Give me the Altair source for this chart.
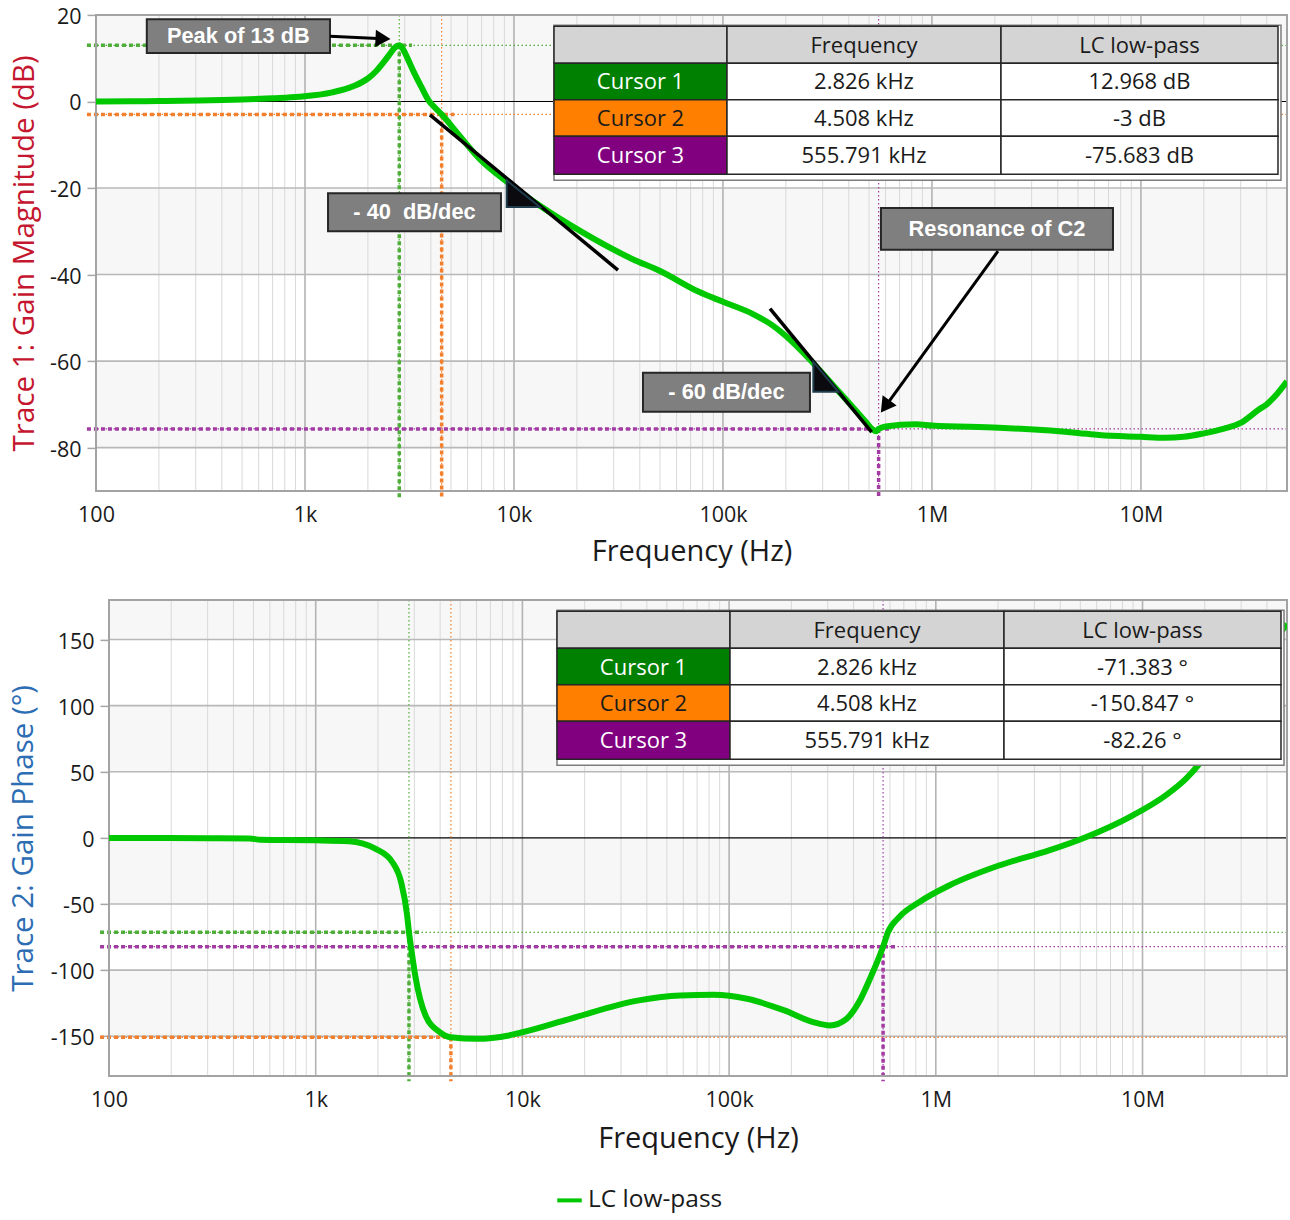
import math

import altair as alt
import pandas as pd

FONT = "Open Sans"
BOLD_FONT = "Liberation Sans"

# ---------------------------------------------------------------- data
SERIES_NAME = "LC low-pass"

# Trace 1: gain magnitude of the LC low-pass
MAG_FREQ_HZ = [100, 150, 200, 311, 500, 700, 940, 1350, 1700, 2000, 2200, 2400,
               2550, 2700, 2826, 2950, 3100, 3300, 3600, 3920, 4200, 4508, 5460,
               6920, 9100, 10000, 13200, 21200, 36800, 50000, 76700, 100000,
               140000, 172000, 200000, 267000, 359000, 482000, 520000, 540000,
               555791, 600000, 835000, 1000000, 2090000, 5000000, 6300000,
               10000000, 13000000, 16000000, 20000000, 25000000, 30000000,
               36700000, 40000000, 45000000, 50000000]
MAG_DB = [0.0, 0.05, 0.1, 0.2, 0.45, 0.75, 1.1, 2.1, 3.5, 5.3, 7.1, 9.3,
          11.0, 12.5, 12.968, 12.0, 9.9, 7.0, 3.4, 0.1, -1.5, -3.0, -7.8,
          -13.5, -18.3, -19.8, -24.0, -30.2, -36.4, -39.2, -44.0, -46.3,
          -49.2, -51.7, -54.2, -60.2, -67.1, -74.0, -75.8, -76.2,
          -75.683, -75.1, -74.6, -74.9, -75.4, -76.6, -77.1,
          -77.5, -77.7, -77.5, -76.7, -75.6, -74.3,
          -71.2, -70.0, -67.5, -64.7]

# Trace 2: gain phase of the LC low-pass
PHASE_FREQ_HZ = [100, 300, 480, 540, 1000, 1450, 1950, 2350, 2590, 2770, 2826,
                 2900, 3030, 3400, 3980, 4508, 6000, 8600, 10000, 17000, 36600,
                 58000, 84000, 122000, 185000, 255000, 307000, 370000, 425000,
                 488000, 555791, 587000, 664000, 830000, 1160000, 2020000,
                 3530000, 5310000, 8930000, 12900000, 16200000, 19100000,
                 22000000, 26000000, 30000000, 35000000, 40000000, 45000000,
                 50000000]
PHASE_DEG = [0.0, -0.2, -0.4, -1.4, -1.8, -2.5, -8.3, -18.4, -33.5, -58.7,
             -71.383, -84.0, -104.0, -134.3, -146.9, -150.847, -152.0, -149.4,
             -147.0, -136.8, -122.9, -119.2, -118.7, -121.7, -130.5, -139.3,
             -141.8, -136.8, -124.2, -104.0, -82.26, -71.3, -60.0, -48.6, -36.0,
             -20.9, -9.5, 0.5, 16.9, 32.0, 44.6, 57.2, 70.0, 88.0, 105.0, 125.0,
             140.0, 152.0, 162.0]

# cursor read-outs
CURSOR_LABELS = ["Cursor 1", "Cursor 2", "Cursor 3"]
CURSOR_FREQ_HZ = [2826, 4508, 555791]
CURSOR_FREQ_TEXT = ["2.826 kHz", "4.508 kHz", "555.791 kHz"]
CURSOR_MAG_DB = [12.968, -3.0, -75.683]
CURSOR_MAG_TEXT = ["12.968 dB", "-3 dB", "-75.683 dB"]
CURSOR_PHASE_DEG = [-71.383, -150.847, -82.26]
CURSOR_PHASE_TEXT = ["-71.383 °", "-150.847 °", "-82.26 °"]
TABLE_HEADER = ["", "Frequency", "LC low-pass"]

# axes
F_MIN, F_MAX = 100, 5e7
X_TICKS = [100, 1e3, 1e4, 1e5, 1e6, 1e7]
MAG_DOMAIN = [-90, 20]
MAG_TICKS = [-80, -60, -40, -20, 0, 20]
PHASE_DOMAIN = [-180, 180]
PHASE_TICKS = [-150, -100, -50, 0, 50, 100, 150]

# magnitude annotations (frequency in Hz, level in dB)
NOTE_BOXES = [
    {"text": "Peak of 13 dB", "f1": 175, "f2": 1317, "d1": 19.0, "d2": 11.2},
    {"text": "- 40\u00a0 dB/dec", "f1": 1289, "f2": 8665, "d1": -21.2, "d2": -30.0},
    {"text": "- 60 dB/dec", "f1": 41420, "f2": 260800, "d1": -62.7, "d2": -71.7},
    {"text": "Resonance of C2", "f1": 570200, "f2": 7350000, "d1": -24.6, "d2": -34.3},
]
SLOPE_LINES = [
    {"f1": 3963, "f2": 31450, "d1": -3.09, "d2": -38.96},
    {"f1": 167900, "f2": 514600, "d1": -47.9, "d2": -76.4},
]
SLOPE_WEDGES = [
    {"id": "w40", "f": [9229, 13317], "top": [-18.24, -24.41], "base": -24.41},
    {"id": "w60", "f": [270700, 356600], "top": [-60.2, -67.1], "base": -67.1},
]
ARROWS = [
    {"f1": 1317, "d1": 15.08, "f2": 2362, "d2": 14.5, "angle": 2.7},
    {"f1": 2070000, "d1": -34.6, "f2": 597800, "d2": -70.5, "angle": 125.8},
]

# ---------------------------------------------------------------- style
CURVE_GREEN = "#00c800"
CURSOR_LINE_COLORS = ["#4fae3a", "#f2802e", "#a23ca2"]
CURSOR_CELL_FILL = ["#008000", "#ff8000", "#800080"]
CURSOR_CELL_TEXT = ["#ffffff", "#1a1a1a", "#ffffff"]
HEADER_FILL = "#d4d4d4"
BAND_FILL = "#f7f7f7"
TEXT_COLOR = "#1a1a1a"

TOP_W, TOP_H = 1191, 476
BOT_W, BOT_H = 1178, 476
TABLE_COL_W = [173, 274, 277]
TABLE_ROW_H = [37, 36.5, 36.5, 38]

X_SCALE = alt.Scale(type="log", domain=[F_MIN, F_MAX], nice=False)
X_LABELS = ("datum.value >= 1e6 ? format(datum.value / 1e6, 'd') + 'M' : "
            "datum.value >= 1e3 ? format(datum.value / 1e3, 'd') + 'k' : "
            "format(datum.value, 'd')")


def x_axis(title_y):
    return alt.Axis(values=X_TICKS, labelExpr=X_LABELS, title="Frequency (Hz)",
                    grid=False, ticks=False, domain=False, labelFlush=False,
                    labelOverlap=False, labelFontSize=21.5, labelPadding=14,
                    labelColor=TEXT_COLOR, titleFontSize=29, titleColor=TEXT_COLOR,
                    titleFontWeight="normal", titleY=title_y, titleBaseline="middle")


def y_axis(values, title, color, title_x):
    return alt.Axis(values=values, labelExpr="datum.value + ''", title=title,
                    grid=False, domain=False,
                    ticks=True, tickSize=9, tickColor="#a6a6a6", tickWidth=1.5,
                    labelFontSize=21.5, labelPadding=6, labelColor=TEXT_COLOR,
                    labelOffset=2.5, labelFlush=False, labelOverlap=False,
                    titleFontSize=29.5, titleColor=color, titleFontWeight="normal",
                    titleX=title_x, titleBaseline="bottom")


def background_layers(y_scale, ticks, domain, width):
    """Alternating bands, grid lines, zero line."""
    edges = sorted(set([domain[0], domain[1]] + ticks), reverse=True)
    bands = [{"hi": edges[i], "lo": edges[i + 1]} for i in range(0, len(edges) - 1, 2)]
    band = alt.Chart(pd.DataFrame(bands)).mark_rect(fill=BAND_FILL).encode(
        x=alt.value(0), x2=alt.value(width),
        y=alt.Y("hi:Q", scale=y_scale), y2="lo:Q")

    minor = [m * 10 ** e for e in range(2, 8) for m in range(2, 10) if m * 10 ** e < F_MAX]
    major = [10 ** e for e in range(3, 8)]
    minor_grid = alt.Chart(pd.DataFrame({"f": minor})).mark_rule(
        color="#d9d9d9", strokeWidth=1).encode(x=alt.X("f:Q", scale=X_SCALE))
    major_grid = alt.Chart(pd.DataFrame({"f": major})).mark_rule(
        color="#b3b3b3", strokeWidth=1.6).encode(x=alt.X("f:Q", scale=X_SCALE))
    inner = [t for t in ticks if t != 0 and domain[0] < t < domain[1]]
    y_grid = alt.Chart(pd.DataFrame({"v": inner})).mark_rule(
        color="#b8b8b8", strokeWidth=1.6).encode(y=alt.Y("v:Q", scale=y_scale))
    zero = alt.Chart(pd.DataFrame({"v": [0]})).mark_rule(
        color="#000000", strokeWidth=1.1).encode(y=alt.Y("v:Q", scale=y_scale))
    return [band, minor_grid, major_grid, y_grid, zero]


def frame_layer(width, height):
    return alt.Chart(pd.DataFrame({"k": [0]})).mark_rect(
        fill=None, stroke="#a3a3a3", strokeWidth=2).encode(
        x=alt.value(0), x2=alt.value(width), y=alt.value(0), y2=alt.value(height))


def cursor_layers(y_scale, values, y_low):
    rows = pd.DataFrame({"f": CURSOR_FREQ_HZ, "v": values, "c": CURSOR_LINE_COLORS})
    rows["f_left"] = F_MIN * 0.905
    rows["f_right"] = rows["f"] * 1.15
    rows["v_low"] = y_low
    base = alt.Chart(rows)
    thin_v = base.mark_rule(strokeWidth=1.2, strokeDash=[1.5, 2.5]).encode(
        x=alt.X("f:Q", scale=X_SCALE), color=alt.Color("c:N", scale=None))
    thin_h = base.mark_rule(strokeWidth=1.2, strokeDash=[1.5, 2.5]).encode(
        y=alt.Y("v:Q", scale=y_scale), color=alt.Color("c:N", scale=None))
    thick_v = base.mark_rule(strokeWidth=3.5, strokeDash=[4, 3]).encode(
        x=alt.X("f:Q", scale=X_SCALE),
        y=alt.Y("v:Q", scale=y_scale), y2="v_low:Q",
        color=alt.Color("c:N", scale=None))
    thick_h = base.mark_rule(strokeWidth=3.5, strokeDash=[4, 3]).encode(
        x=alt.X("f_left:Q", scale=X_SCALE), x2="f_right:Q",
        y=alt.Y("v:Q", scale=y_scale),
        color=alt.Color("c:N", scale=None))
    return [thin_v, thin_h, thick_v, thick_h]


def table_layers(x0, y0, value_text):
    """Cursor read-out table, laid out in pixels inside the plot."""
    xs = [0]
    for w in TABLE_COL_W:
        xs.append(xs[-1] + w)
    ys = [0]
    for h in TABLE_ROW_H:
        ys.append(ys[-1] + h)
    cells, texts = [], []
    for r in range(len(TABLE_ROW_H)):
        for c in range(len(TABLE_COL_W)):
            if r == 0:
                fill, txt, tc = HEADER_FILL, TABLE_HEADER[c], TEXT_COLOR
            elif c == 0:
                fill, txt, tc = CURSOR_CELL_FILL[r - 1], CURSOR_LABELS[r - 1], CURSOR_CELL_TEXT[r - 1]
            elif c == 1:
                fill, txt, tc = "#ffffff", CURSOR_FREQ_TEXT[r - 1], TEXT_COLOR
            else:
                fill, txt, tc = "#ffffff", value_text[r - 1], TEXT_COLOR
            cells.append({"x": x0 + xs[c], "x2": x0 + xs[c + 1],
                          "y": y0 + ys[r], "y2": y0 + ys[r + 1], "fill": fill})
            texts.append({"x": x0 + (xs[c] + xs[c + 1]) / 2,
                          "y": y0 + (ys[r] + ys[r + 1]) / 2 + 1,
                          "text": txt, "color": tc})
    outer = pd.DataFrame([{"x": x0, "x2": x0 + xs[-1] + 3,
                           "y": y0 - 1, "y2": y0 + ys[-1] + 6}])
    frame = alt.Chart(outer).mark_rect(fill="#ffffff", stroke="#7c7c7c", strokeWidth=1.5).encode(
        x=alt.X("x:Q", scale=None), x2="x2:Q", y=alt.Y("y:Q", scale=None), y2="y2:Q")
    cell = alt.Chart(pd.DataFrame(cells)).mark_rect(stroke="#262626", strokeWidth=1.5).encode(
        x=alt.X("x:Q", scale=None), x2="x2:Q", y=alt.Y("y:Q", scale=None), y2="y2:Q",
        fill=alt.Fill("fill:N", scale=None))
    label = alt.Chart(pd.DataFrame(texts)).mark_text(
        font=FONT, fontSize=22, align="center", baseline="middle").encode(
        x=alt.X("x:Q", scale=None), y=alt.Y("y:Q", scale=None),
        text="text:N", color=alt.Color("color:N", scale=None))
    return [frame, cell, label]


# ---------------------------------------------------------------- top: magnitude
mag_y = alt.Scale(domain=MAG_DOMAIN, nice=False, zero=False)
mag_df = pd.DataFrame({"f": MAG_FREQ_HZ, "v": MAG_DB})

mag_curve = alt.Chart(mag_df).mark_line(
    color=CURVE_GREEN, strokeWidth=6, interpolate="monotone", clip=True).encode(
    x=alt.X("f:Q", scale=X_SCALE, axis=x_axis(61)),
    y=alt.Y("v:Q", scale=mag_y,
            axis=y_axis(MAG_TICKS, "Trace 1: Gain Magnitude (dB)", "#c4172f", -57)))

slope_lines = alt.Chart(pd.DataFrame(SLOPE_LINES)).mark_rule(
    color="#000000", strokeWidth=3.5).encode(
    x=alt.X("f1:Q", scale=X_SCALE), x2="f2:Q",
    y=alt.Y("d1:Q", scale=mag_y), y2="d2:Q")

wedge_rows = []
for w in SLOPE_WEDGES:
    for f, t in zip(w["f"], w["top"]):
        wedge_rows.append({"id": w["id"], "f": f, "top": t, "base": w["base"]})
wedges = alt.Chart(pd.DataFrame(wedge_rows)).mark_area(
    color="#0b0b0f", stroke="#1f3d4d", strokeWidth=2, opacity=1).encode(
    x=alt.X("f:Q", scale=X_SCALE),
    y=alt.Y("top:Q", scale=mag_y), y2="base:Q", detail="id:N")

box_df = pd.DataFrame(NOTE_BOXES)
box_df["fm"] = [math.sqrt(a * b) for a, b in zip(box_df["f1"], box_df["f2"])]
box_df["dm"] = (box_df["d1"] + box_df["d2"]) / 2
boxes = alt.Chart(box_df).mark_rect(fill="#7f7f7f", stroke="#262626", strokeWidth=2).encode(
    x=alt.X("f1:Q", scale=X_SCALE), x2="f2:Q",
    y=alt.Y("d1:Q", scale=mag_y), y2="d2:Q")
box_text = alt.Chart(box_df).mark_text(
    font=BOLD_FONT, fontWeight="bold", fontSize=21.8, color="#ffffff",
    align="center", baseline="middle").encode(
    x=alt.X("fm:Q", scale=X_SCALE),
    y=alt.Y("dm:Q", scale=mag_y), text="text:N")

arrow_df = pd.DataFrame(ARROWS)
arrow_lines = alt.Chart(arrow_df).mark_rule(color="#000000", strokeWidth=3).encode(
    x=alt.X("f1:Q", scale=X_SCALE), x2="f2:Q",
    y=alt.Y("d1:Q", scale=mag_y), y2="d2:Q")
arrow_heads = alt.Chart(arrow_df).mark_point(
    shape="triangle-right", filled=True, size=300, color="#000000", opacity=1).encode(
    x=alt.X("f2:Q", scale=X_SCALE),
    y=alt.Y("d2:Q", scale=mag_y),
    angle=alt.Angle("angle:Q", scale=None))

top = alt.layer(
    *background_layers(mag_y, MAG_TICKS, MAG_DOMAIN, TOP_W),
    *cursor_layers(mag_y, CURSOR_MAG_DB, -91.5),
    frame_layer(TOP_W, TOP_H),
    mag_curve, slope_lines, wedges, boxes, box_text, arrow_lines, arrow_heads,
    *table_layers(458, 11.3, CURSOR_MAG_TEXT),
).properties(width=TOP_W, height=TOP_H)

# ---------------------------------------------------------------- bottom: phase
ph_y = alt.Scale(domain=PHASE_DOMAIN, nice=False, zero=False)
ph_df = pd.DataFrame({"f": PHASE_FREQ_HZ, "v": PHASE_DEG, "series": SERIES_NAME})

ph_curve = alt.Chart(ph_df).mark_line(strokeWidth=6, interpolate="monotone", clip=True).encode(
    x=alt.X("f:Q", scale=X_SCALE, axis=x_axis(63)),
    y=alt.Y("v:Q", scale=ph_y,
            axis=y_axis(PHASE_TICKS, "Trace 2: Gain Phase (°)", "#2c6db3", -71)),
    color=alt.Color("series:N",
                    scale=alt.Scale(domain=[SERIES_NAME], range=[CURVE_GREEN]),
                    legend=alt.Legend(orient="none", legendX=550, legendY=1171,
                                      title=None, symbolType="stroke",
                                      symbolStrokeWidth=4, symbolSize=600,
                                      labelFontSize=24.5, labelFont=FONT,
                                      labelColor=TEXT_COLOR, padding=0)))

bottom = alt.layer(
    *background_layers(ph_y, PHASE_TICKS, PHASE_DOMAIN, BOT_W),
    *cursor_layers(ph_y, CURSOR_PHASE_DEG, -184),
    frame_layer(BOT_W, BOT_H),
    ph_curve,
    *table_layers(448, 11.4, CURSOR_PHASE_TEXT),
).properties(width=BOT_W, height=BOT_H)


def spacer():
    return alt.Chart(pd.DataFrame({"k": [0]})).mark_point(opacity=0).encode(
        x=alt.value(0), y=alt.value(0)).properties(width=1, height=1)


chart = alt.vconcat(
    alt.hconcat(spacer(), top, spacing=0),
    alt.hconcat(spacer(), bottom, spacing=0),
    spacing=30,
).properties(
    padding={"left": 2, "top": 5.9, "right": 0, "bottom": 3},
    background="#ffffff",
).configure_view(stroke=None).configure_axis(
    labelFont=FONT, titleFont=FONT
).configure_legend(labelFont=FONT)

chart.save("out.html", embed_options={"renderer": "svg", "actions": False})
